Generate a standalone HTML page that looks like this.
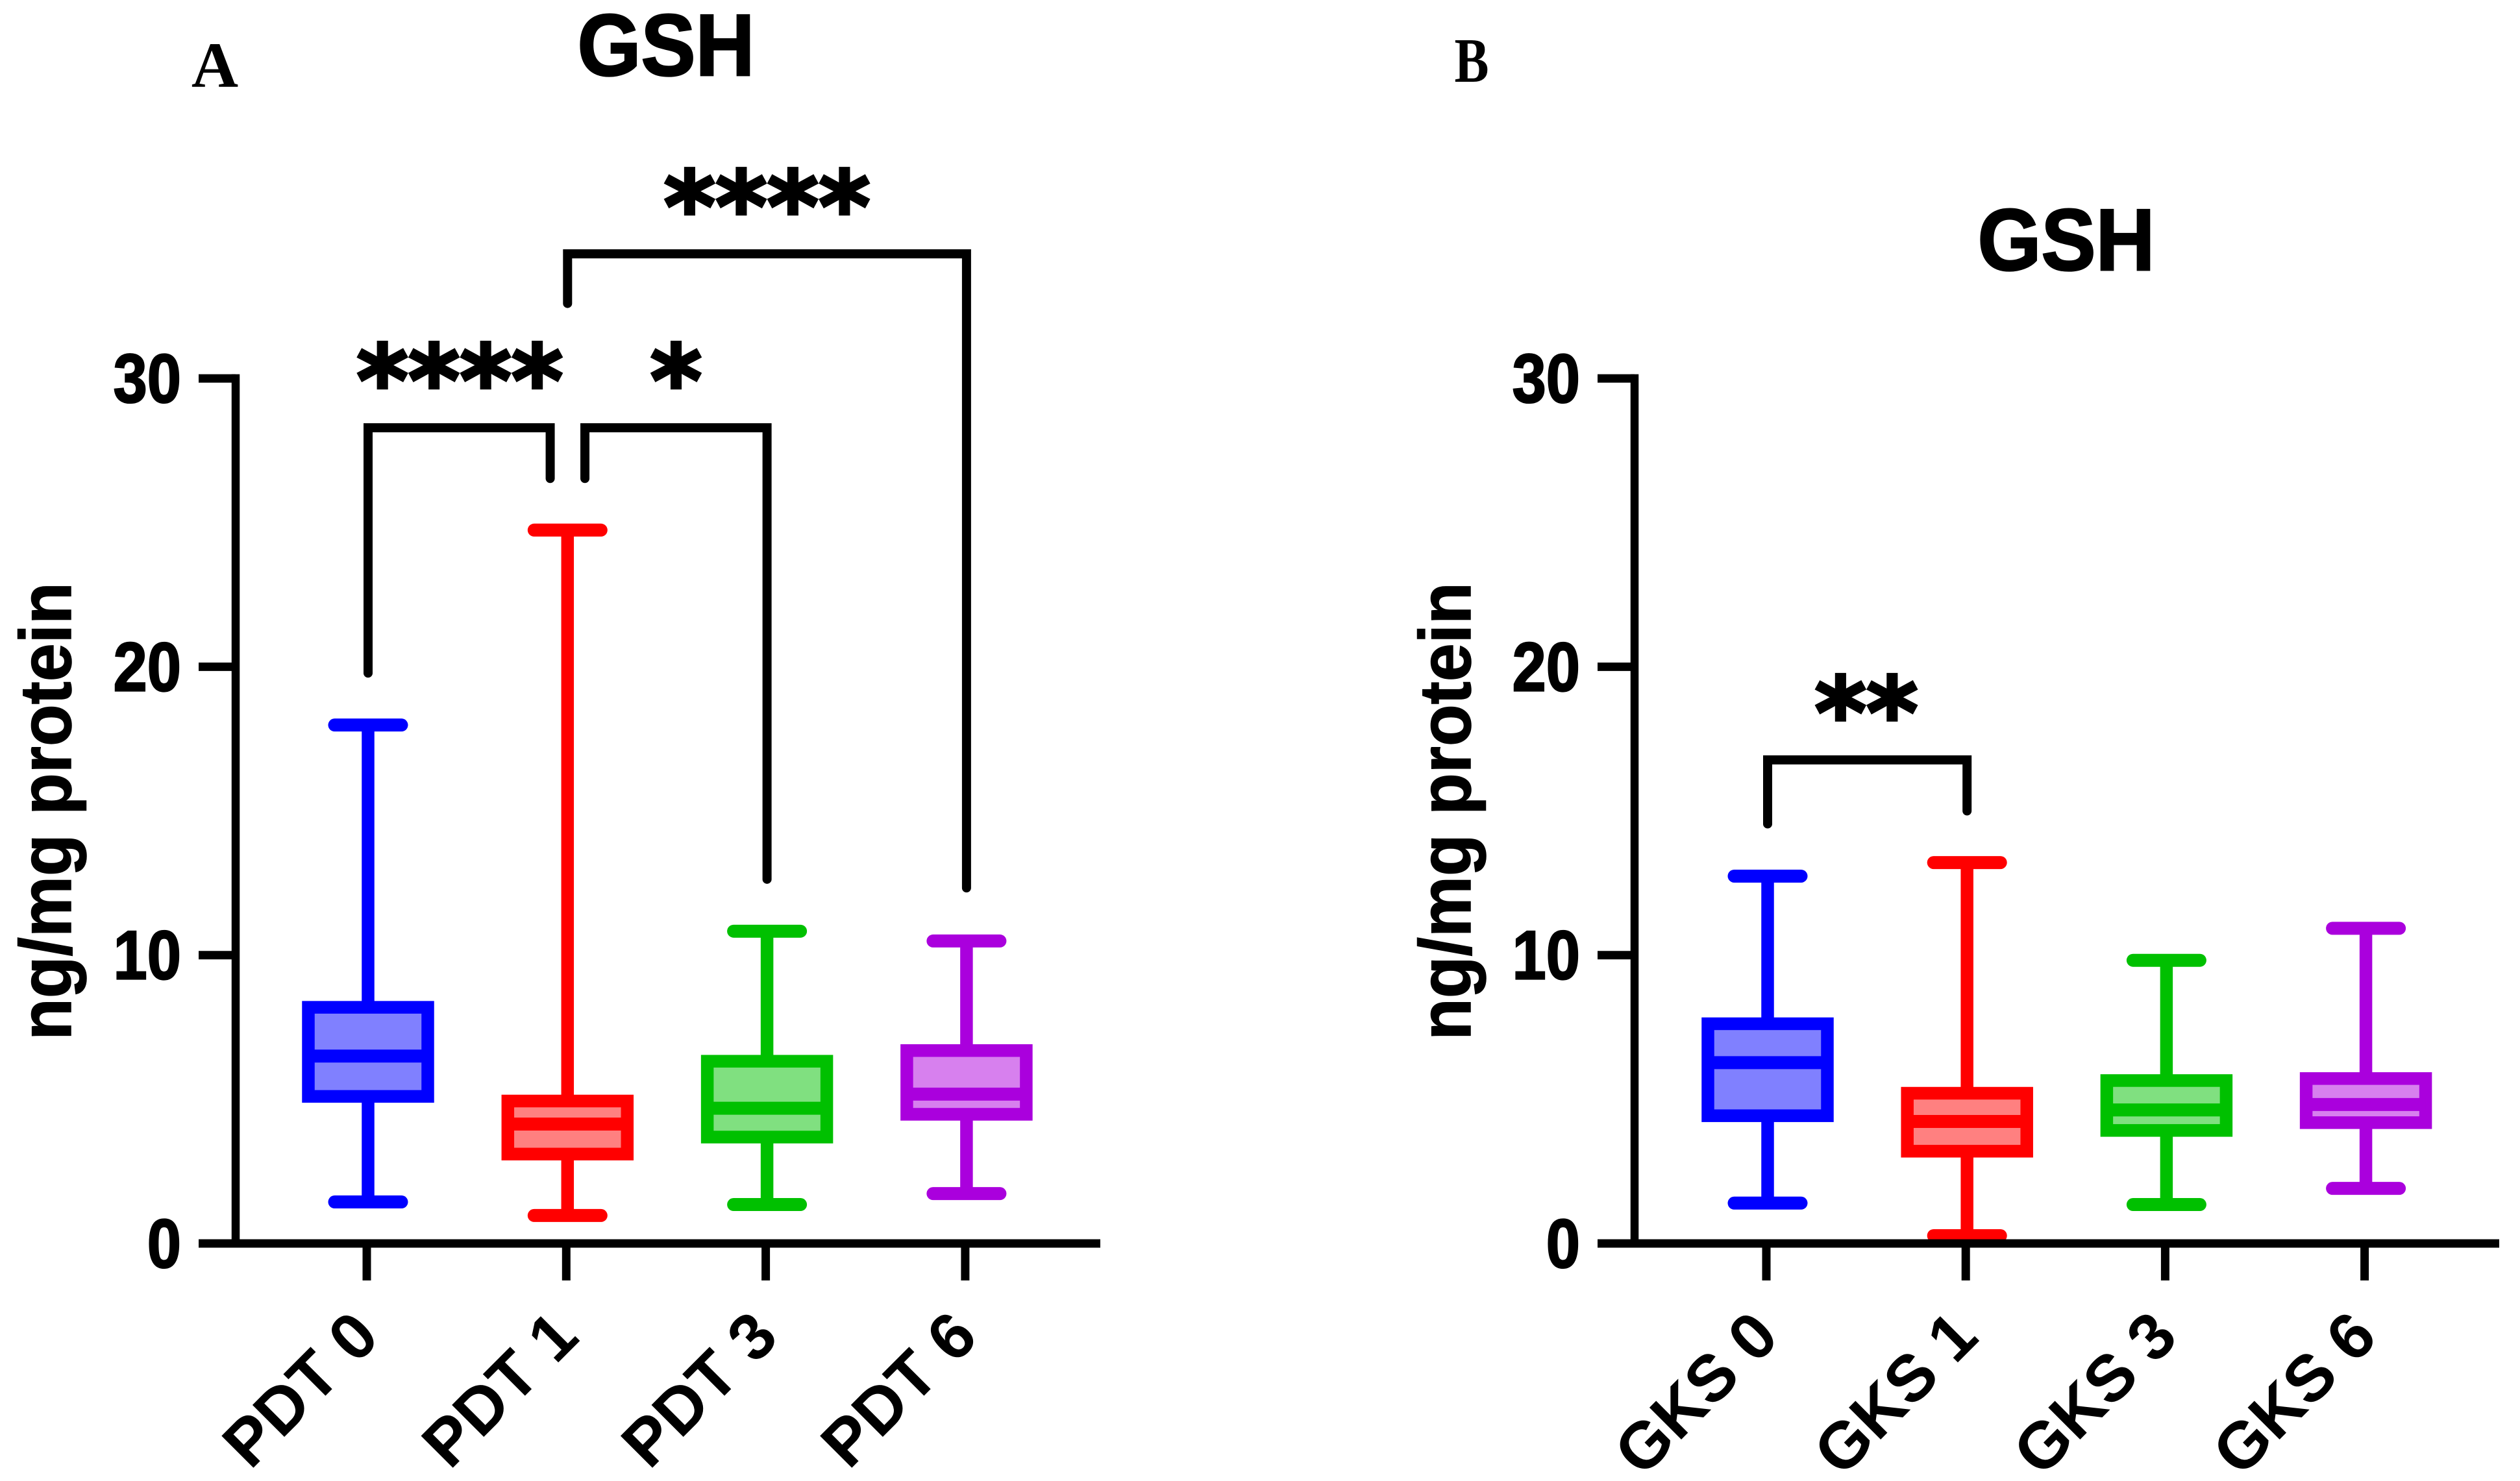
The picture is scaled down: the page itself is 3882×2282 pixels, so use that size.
<!DOCTYPE html>
<html>
<head>
<meta charset="utf-8">
<title>GSH box plots</title>
<style>
html,body{margin:0;padding:0;background:#fff;}
svg{display:block;}
text{font-family:"Liberation Sans",sans-serif;font-weight:bold;fill:#000;}
</style>
</head>
<body>
<svg id="chart" xmlns="http://www.w3.org/2000/svg" width="3882" height="2282" viewBox="0 0 3882 2282">
<rect x="0" y="0" width="3882" height="2282" fill="#ffffff"/>
<text x="0" y="0" text-anchor="middle" font-size="100" transform="translate(331,134)" style="font-family:'Liberation Serif',serif">A</text>
<text x="0" y="0" text-anchor="middle" font-size="97" transform="translate(2267,126) scale(0.82,1)" style="font-family:'Liberation Serif',serif">B</text>
<text x="0" y="0" text-anchor="middle" font-size="126" stroke="#000" stroke-width="2.5" transform="translate(1026,116) scale(1,1.07)">GSH</text>
<text x="0" y="0" text-anchor="middle" font-size="126" stroke="#000" stroke-width="2.5" transform="translate(3183,416) scale(1,1.07)">GSH</text>
</svg>
<script>
const yTickValues = [0, 10, 20, 30];

const pdtCategories = ["PDT 0", "PDT 1", "PDT 3", "PDT 6"];
const pdtMax = [17.98, 24.74, 10.83, 10.49];
const pdtQ3 = [8.19, 4.94, 6.32, 6.69];
const pdtMedian = [6.5, 4.14, 4.69, 5.18];
const pdtQ1 = [5.1, 3.1, 3.69, 4.48];
const pdtMin = [1.44, 0.97, 1.35, 1.73];

const gksCategories = ["GKS 0", "GKS 1", "GKS 3", "GKS 6"];
const gksMax = [12.74, 13.21, 9.82, 10.93];
const gksQ3 = [7.62, 5.21, 5.65, 5.72];
const gksMedian = [6.27, 4.23, 4.63, 4.82];
const gksQ1 = [4.43, 3.2, 3.92, 4.19];
const gksMin = [1.4, 0.27, 1.35, 1.91];

const seriesStroke = ["#0000ff", "#ff0000", "#00c000", "#aa00dd"];
const seriesFill = ["#8080ff", "#ff8080", "#80e080", "#d780ee"];

const pdtBracketFrom = [0, 1.087, 1];
const pdtBracketTo = [0.913, 2, 3];
const pdtBracketLevel = [28.29, 28.29, 34.32];
const pdtBracketFromEnd = [19.78, 26.53, 32.6];
const pdtBracketToEnd = [26.53, 12.63, 12.33];
const pdtBracketStars = ["****", "*", "****"];
const pdtBracketStarPos = [0.46, 1.544, 2.0];

const gksBracketFrom = [0];
const gksBracketTo = [1];
const gksBracketLevel = [16.77];
const gksBracketFromEnd = [14.55];
const gksBracketToEnd = [15.0];
const gksBracketStars = ["**"];
const gksBracketStarPos = [0.495];

const svg = document.getElementById('chart');
const NS = 'http://www.w3.org/2000/svg';
const baseY = 1916;
const unitY = 44.43;

function yScale(v) { return baseY - v * unitY; }

function make(tag, name, attrs, parent) {
  const el = document.createElementNS(NS, tag);
  
  
  for (const k in attrs) { el.setAttribute(k, attrs[k]); }
  (parent || svg).appendChild(el);
  return el;
}

function segment(name, x1, y1, x2, y2, color, width, cap, parent) {
  return make('line', name, { x1: x1, y1: y1, x2: x2, y2: y2, stroke: color, 'stroke-width': width, 'stroke-linecap': cap || 'butt' }, parent);
}

function drawPanel(p) {
  const xScale = function (i) { return p.x0 + i * p.step; };
  const g = make('g', p.id + '-plot', {});

  p.categories.forEach(function (cat, i) {
    const cx = xScale(i);
    const stroke = seriesStroke[i];
    const key = cat.toLowerCase().replace(' ', '-');
    const boxW = 184;
    const capHalf = 51.5;
    segment(key + '-whisker-upper', cx, yScale(p.q3[i]), cx, yScale(p.max[i]), stroke, 19.5, 'butt', g);
    segment(key + '-whisker-lower', cx, yScale(p.q1[i]), cx, yScale(p.min[i]), stroke, 19.5, 'butt', g);
    segment(key + '-cap-upper', cx - capHalf, yScale(p.max[i]), cx + capHalf, yScale(p.max[i]), stroke, 20, 'round', g);
    segment(key + '-cap-lower', cx - capHalf, yScale(p.min[i]), cx + capHalf, yScale(p.min[i]), stroke, 20, 'round', g);
    make('rect', key + '-box', {
      x: cx - boxW / 2, y: yScale(p.q3[i]), width: boxW,
      height: yScale(p.q1[i]) - yScale(p.q3[i]),
      fill: seriesFill[i], stroke: stroke, 'stroke-width': 19.5
    }, g);
    segment(key + '-median', cx - boxW / 2, yScale(p.median[i]), cx + boxW / 2, yScale(p.median[i]), stroke, 20, 'butt', g);
  });

  segment(p.id + '-y-axis', p.axisX, yScale(30) - 6.5, p.axisX, baseY, '#000', 12.5, 'butt');
  segment(p.id + '-x-axis', p.axisX - 57, baseY, p.axisEnd, baseY, '#000', 13, 'butt');

  yTickValues.forEach(function (v) {
    segment(p.id + '-y-tick-' + v, p.axisX - 57, yScale(v), p.axisX, yScale(v), '#000', 13, 'butt');
    const t = make('text', p.id + '-y-tick-label-' + v, {
      x: 0, y: 0, 'text-anchor': 'end', 'font-size': 94, stroke: '#000', 'stroke-width': 2,
      transform: 'translate(' + (p.axisX - 84) + ',' + (yScale(v) + 37) + ') scale(1,1.14)'
    });
    t.textContent = String(v);
  });

  p.categories.forEach(function (cat, i) {
    const tx = xScale(i) - 2;
    const key = cat.toLowerCase().replace(' ', '-');
    segment(key + '-x-tick', tx, baseY, tx, baseY + 57, '#000', 13, 'butt');
    const t = make('text', key + '-x-label', {
      x: 0, y: 0, 'text-anchor': 'end', 'font-size': p.labelSize,
      transform: 'translate(' + (tx + 23) + ',2064) rotate(-45)'
    });
    t.textContent = cat;
  });

  const yl = make('text', p.id + '-y-axis-title', {
    x: 0, y: 0, 'text-anchor': 'middle', 'font-size': 112, stroke: '#000', 'stroke-width': 1.5,
    transform: 'translate(' + p.ylabelX + ',1250) rotate(-90) scale(0.945,1)'
  });
  yl.textContent = 'ng/mg protein';

  p.bFrom.forEach(function (b, i) {
    const x1 = xScale(p.bFrom[i]);
    const x2 = xScale(p.bTo[i]);
    const yTop = yScale(p.bLevel[i]);
    const d = 'M' + x1 + ' ' + yScale(p.bFromEnd[i]) + ' L' + x1 + ' ' + yTop + ' L' + x2 + ' ' + yTop + ' L' + x2 + ' ' + yScale(p.bToEnd[i]);
    make('path', p.id + '-significance-bracket-' + i, {
      d: d, fill: 'none', stroke: '#000', 'stroke-width': 14, 'stroke-linejoin': 'miter', 'stroke-linecap': 'round'
    });
    const s = make('text', p.id + '-significance-stars-' + i, {
      x: 0, y: 0, 'text-anchor': 'middle', 'font-size': 152, stroke: '#000', 'stroke-width': 4.5,
      style: 'font-family:"DejaVu Sans",sans-serif',
      transform: 'translate(' + xScale(p.bStar[i]) + ',' + (yTop - 56 + 37) + ')'
    });
    s.textContent = p.bStars[i];
  });
}

drawPanel({
  id: 'panel-a', x0: 567, step: 307.3, axisX: 363, axisEnd: 1695,
  labelSize: 101, ylabelX: 109,
  categories: pdtCategories, max: pdtMax, q3: pdtQ3, median: pdtMedian, q1: pdtQ1, min: pdtMin,
  bFrom: pdtBracketFrom, bTo: pdtBracketTo, bLevel: pdtBracketLevel,
  bFromEnd: pdtBracketFromEnd, bToEnd: pdtBracketToEnd, bStars: pdtBracketStars, bStar: pdtBracketStarPos
});

drawPanel({
  id: 'panel-b', x0: 2723, step: 307.2, axisX: 2518, axisEnd: 3850,
  labelSize: 101, ylabelX: 2265,
  categories: gksCategories, max: gksMax, q3: gksQ3, median: gksMedian, q1: gksQ1, min: gksMin,
  bFrom: gksBracketFrom, bTo: gksBracketTo, bLevel: gksBracketLevel,
  bFromEnd: gksBracketFromEnd, bToEnd: gksBracketToEnd, bStars: gksBracketStars, bStar: gksBracketStarPos
});
</script>
</body>
</html>
